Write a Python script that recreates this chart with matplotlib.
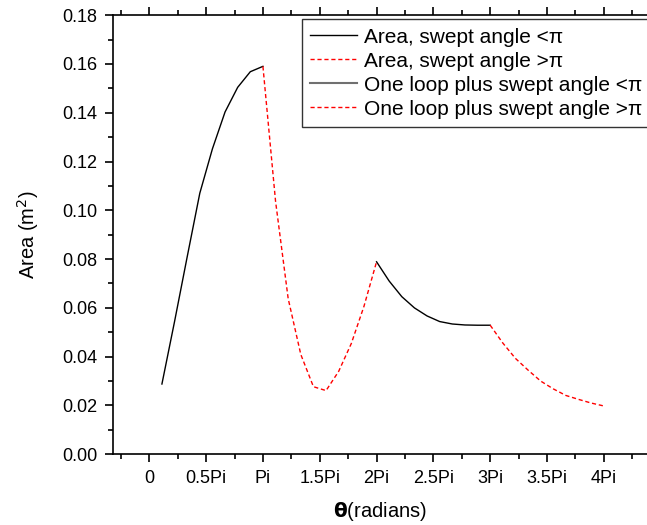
import matplotlib.pyplot as plt
import numpy as np

plt.rcParams['font.family'] = ['Liberation Sans', 'DejaVu Sans']

# angle in units of pi, area in m^2
theta1 = [1/9, 2/9, 3/9, 4/9, 5/9, 6/9, 7/9, 8/9, 1.0]
area1 = [0.0288, 0.0544, 0.0809, 0.1070, 0.1252, 0.1403, 0.1504, 0.1568, 0.1590]

theta2 = [1.0, 1+1/9, 1+2/9, 1+3/9, 1+4/9, 1+5/9, 1+6/9, 1+7/9, 1+8/9, 2.0]
area2 = [0.1590, 0.1037, 0.0638, 0.0409, 0.0277, 0.0261, 0.0340, 0.0454, 0.0606, 0.0789]

theta3 = [2.0, 2+1/9, 2+2/9, 2+3/9, 2+4/9, 2+5/9, 2+6/9, 2+7/9, 2+8/9, 3.0]
area3 = [0.0789, 0.0710, 0.0646, 0.0600, 0.0567, 0.0544, 0.0534, 0.0530, 0.0529, 0.0529]

theta4 = [3.0, 3+1/9, 3+2/9, 3+3/9, 3+4/9, 3+5/9, 3+6/9, 3+7/9, 3+8/9, 4.0]
area4 = [0.0529, 0.0456, 0.0393, 0.0345, 0.0300, 0.0268, 0.0241, 0.0225, 0.0210, 0.0198]

xticks = [0, 0.5, 1, 1.5, 2, 2.5, 3, 3.5, 4]
xticklabels = ['0', '0.5Pi', 'Pi', '1.5Pi', '2Pi', '2.5Pi', '3Pi', '3.5Pi', '4Pi']

fig = plt.figure(figsize=(6.47, 5.25), dpi=100)
ax = fig.add_axes([0.1742, 0.1347, 0.8258, 0.8365])

ax.plot(theta1, area1, color='black', lw=1, label='Area, swept angle <\u03c0')
ax.plot(theta2, area2, color='red', lw=1, dashes=(3, 2), label='Area, swept angle >\u03c0')
ax.plot(theta3, area3, color='black', lw=1, label='One loop plus swept angle <\u03c0')
ax.plot(theta4, area4, color='red', lw=1, dashes=(3, 2), label='One loop plus swept angle >\u03c0')

ax.set_xlim(-0.322, 4.38)
ax.set_ylim(0, 0.18)
ax.set_xticks(xticks)
ax.set_xticklabels(xticklabels)
ax.set_xticks(np.arange(-0.25, 4.4, 0.5), minor=True)
ax.set_yticks(np.arange(0, 0.181, 0.02))
ax.set_yticklabels(['%.2f' % v for v in np.arange(0, 0.181, 0.02)])
ax.set_yticks(np.arange(0.01, 0.18, 0.02), minor=True)

ax.spines['right'].set_visible(False)
for s in ['left', 'bottom', 'top']:
    ax.spines[s].set_linewidth(1.2)
ax.tick_params(which='both', direction='out', top=True, labelsize=13, width=1.2)
ax.tick_params(which='major', length=6, pad=5)
ax.tick_params(which='minor', length=3.5)

ax.set_ylabel('Area (m$^2$)', fontsize=14.5, labelpad=15)
ax.set_xlabel('$\\mathbf{\\theta}$(radians)', fontsize=14.5, labelpad=10)

leg = ax.legend(loc='upper left', bbox_to_anchor=(301.7/647, 1 - 19.3/525), bbox_transform=fig.transFigure,
                fontsize=15, frameon=True, fancybox=False, borderaxespad=0,
                handlelength=2.25, handletextpad=0.35, labelspacing=0.24, borderpad=0.4)
leg.get_frame().set_edgecolor('black')
leg.get_frame().set_linewidth(1)
leg.get_lines()[2].set_color('#707070')
leg.get_lines()[2].set_linewidth(1.5)

fig.savefig('out.png', dpi=100)
